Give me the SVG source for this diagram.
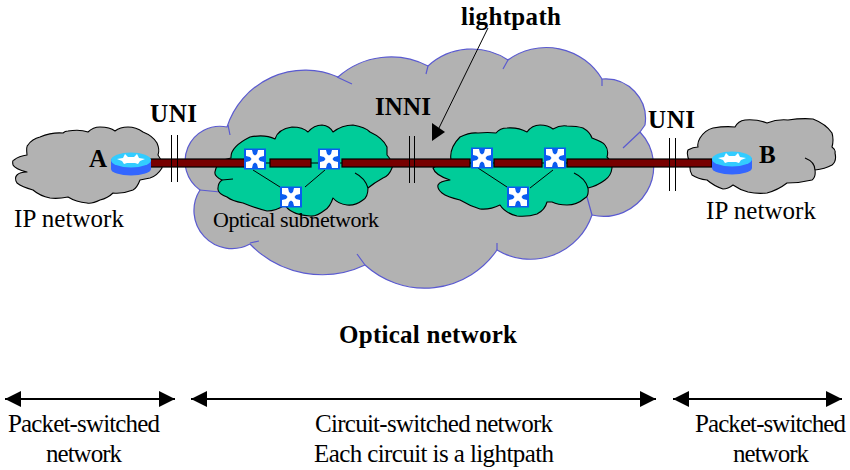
<svg xmlns="http://www.w3.org/2000/svg" width="850" height="470" viewBox="0 0 850 470">
<style>
.big{fill:#b2b2b2;stroke:#5a5ad0;stroke-width:1.2;stroke-linejoin:round}
.notchB{fill:none;stroke:#5a5ad0;stroke-width:1.2}
.green{fill:#00cc99;stroke:#000;stroke-width:1.1;stroke-linejoin:round}
.small{fill:#b2b2b2;stroke:#000;stroke-width:1.1;stroke-linejoin:round}
.notchK{fill:none;stroke:#000;stroke-width:1.1}
.bar{fill:#770000;stroke:#000;stroke-width:1.2}
.thin{fill:none;stroke:#000;stroke-width:1}
.span{stroke:#000;stroke-width:2;fill:none;marker-start:url(#hl);marker-end:url(#hr)}
text{font-family:"Liberation Serif","Times New Roman",serif;fill:#000}
.b{font-weight:bold;font-size:25px}
.r{font-size:25px}
.s{font-size:22px}
</style>
<defs>
<marker id="hr" markerUnits="userSpaceOnUse" markerWidth="17" markerHeight="18" refX="16" refY="9" orient="auto"><path d="M0,1 L16,9 L0,17 Z" fill="#000"/></marker>
<marker id="hl" markerUnits="userSpaceOnUse" markerWidth="17" markerHeight="18" refX="1" refY="9" orient="auto"><path d="M17,1 L1,9 L17,17 Z" fill="#000"/></marker>
<g id="sw">
<rect x="-11" y="-10.500" width="22" height="21" fill="#0a5cf0"/>
<path d="M-9,-9 L-3,-9 L-2,-5 L0,-3.500 L2,-5 L3,-9 L9,-9 L9,-3 L5,-2 L3.500,0 L5,2 L9,3 L9,9 L3,9 L2,5 L0,3.500 L-2,5 L-3,9 L-9,9 L-9,3 L-5,2 L-3.500,0 L-5,-2 L-9,-3 Z" fill="#fff"/>
</g>
<g id="router">
<path d="M-20,-5 L-20,5 A20,6.500 0 0 0 20,5 L20,-5 Z" fill="#3366ff"/>
<ellipse cx="0" cy="-4" rx="20" ry="7.500" fill="#33ccff"/>
<path d="M-14,-5 L-8,-6 L-6,-10 L-3,-7 L3,-7 L6,-10 L8,-6 L14,-5 L9,-3 L7,0 L4,-1 L-4,-1 L-7,0 L-9,-3 Z" fill="#fff"/>
</g>
</defs>
<g id="optical-network">
<path class="big" d="M227,127 A82,82 0 0 1 338,77 A80,80 0 0 1 428,66 A65,65 0 0 1 508,60 A65,65 0 0 1 602,79 A40,40 0 0 1 645,125 L640,132 A50,50 0 0 1 592,215 A65,65 0 0 1 497,250 A88,88 0 0 1 365,265 A100,100 0 0 1 250,244 A38,38 0 0 1 200,190 A35,35 0 0 1 227,127 Z"/>
<path class="notchB" d="M337,77 L352,84 M428,66 L426,74 M508,60 L503,69 M602,79 L602,86 M640,132 L623,148 M228,125 L230,135 M259,241 L250,243 M357,254 L365,265 M497,243 L497,250 M587,197 L592,215 M200,190 L220,192"/>
</g>
<g id="subnetwork-left">
<path class="green" d="M231,158 Q230,147 250,137 Q265,134 275,139 Q278,129 292,127 Q303,127 308,132 Q314,125 322,125 Q330,126 333,132 Q342,125 353,125 Q365,127 370,132 Q383,138 387,147 L387,155 Q394,163 392,168 Q389,176 383,178 Q374,183 368,188 Q368,197 363,200 Q355,206 347,205 Q338,204 333,198 Q330,207 325,210 Q316,217 310,216 Q298,215 293,212 Q287,209 285,205 Q276,211 267,211 Q255,208 243,203 Q232,201 227,197 Q217,193 218,188 Q218,183 222,180 Q214,176 215,172 Q216,166 220,162 Q225,159 231,158 Z"/>
<path class="notchK" d="M222,180 L233,179 M355,173 Q365,178 368,188"/>
</g>
<g id="subnetwork-right">
<path class="green" d="M451,160 Q449,148 460,137 Q470,132 478,133 Q488,132 496,133 Q500,128 507,128 Q518,127 527,132 Q532,125 540,125 Q548,125 553,129 Q560,125 567,126 Q577,126 583,128 Q590,132 592,138 Q603,142 605,145 Q609,150 607,157 Q612,162 612,168 Q611,176 605,180 Q597,186 588,188 Q589,196 585,198 Q577,205 567,205 Q558,205 552,202 L547,202 Q545,210 537,214 Q528,217 517,216 Q505,213 500,205 Q490,210 480,209 Q470,206 460,200 Q447,197 442,193 Q437,189 438,185 Q440,181 450,180 Q435,175 433,168 Q440,163 451,160 Z"/>
<path class="notchK" d="M574,173 Q585,178 588,188"/>
</g>
<g id="ip-network-left">
<path class="small" d="M27,155 Q26,146 28,145 Q32,139 40,137 Q52,132 63,133 Q65,131 68,131 Q80,129 88,132 Q93,127 100,127 Q110,127 115,131 Q120,127 128,127 Q136,127 143,132 Q153,136 157,143 Q160,150 158,155 Q163,162 162,168 Q157,176 150,178 L140,180 Q137,188 133,190 Q123,194 113,193 Q108,198 100,200 Q92,204 87,203 Q76,202 68,197 Q58,199 50,198 Q40,196 33,190 Q22,187 17,183 Q14,178 17,175 Q20,172 27,172 Q15,169 13,165 Q12,160 14,160 Q19,156 27,155 Z"/>
</g>
<g id="ip-network-right">
<path class="small" d="M688,150 Q693,147 698,147 Q697,143 700,138 Q705,130 713,128 Q725,126 735,127 Q738,121 745,120 Q757,119 767,123 Q777,119 788,120 Q802,118 813,119 Q826,124 832,133 Q834,140 832,147 Q836,150 835,153 Q837,161 832,165 Q825,169 815,170 Q816,177 812,180 Q800,183 787,183 Q778,190 767,193 Q757,194 748,192 Q740,190 733,185 Q728,189 723,189 Q714,186 707,180 Q698,179 692,175 Q689,170 690,162 Q686,155 688,150 Z"/>
<path class="notchK" d="M805,158 Q815,162 815,170"/>
</g>
<g id="connectors">
<path class="thin" d="M253,170 L280,187 M325,170 L305,187 M478,168 L507,187 M553,170 L530,188 M247,163 L342,163 M470,163 L567,163"/>
<rect class="bar" x="150" y="159" width="97" height="8"/>
<rect class="bar" x="270" y="159" width="41" height="8"/>
<rect class="bar" x="342" y="159" width="128" height="8"/>
<rect class="bar" x="494" y="159" width="48" height="8"/>
<rect class="bar" x="567" y="159" width="145" height="8"/>
<path class="thin" d="M171.500,135 V182 M177.500,135 V182 M409.500,136 V183 M414.500,136 V183 M669.500,138 V191 M675.500,138 V191"/>
<path class="thin" d="M488,28 L438,130"/>
<path d="M432,141 L432,123 L445,132 Z" fill="#000"/>
<path class="span" d="M5,399 H175"/>
<path class="span" d="M191,399 H656"/>
<path class="span" d="M673,399 H842"/>
</g>
<g id="router-a"><use href="#router" x="131" y="164"/></g>
<g id="router-b"><use href="#router" x="732" y="163"/></g>
<g id="switch-1"><use href="#sw" x="255" y="159"/></g>
<g id="switch-2"><use href="#sw" x="329" y="159"/></g>
<g id="switch-3"><use href="#sw" x="291" y="197"/></g>
<g id="switch-4"><use href="#sw" x="482" y="158"/></g>
<g id="switch-5"><use href="#sw" x="555" y="158"/></g>
<g id="switch-6"><use href="#sw" x="518" y="197"/></g>
<g id="labels">
<text class="b" x="150" y="122" textLength="47">UNI</text>
<text class="b" x="375" y="115" textLength="56">INNI</text>
<text class="b" x="648" y="128" textLength="47">UNI</text>
<text class="b" x="461" y="25" textLength="100">lightpath</text>
<text class="b" x="89" y="167" textLength="18">A</text>
<text class="b" x="759" y="163" textLength="17">B</text>
<text class="r" x="14" y="227" textLength="110">IP network</text>
<text class="r" x="706" y="219" textLength="110">IP network</text>
<text class="s" x="213" y="227" textLength="166">Optical subnetwork</text>
<text class="b" x="339" y="343" textLength="178">Optical network</text>
<text class="r" x="8" y="432" textLength="152">Packet-switched</text>
<text class="r" x="46" y="462" textLength="76">network</text>
<text class="r" x="315" y="432" textLength="238">Circuit-switched network</text>
<text class="r" x="314" y="462" textLength="240">Each circuit is a lightpath</text>
<text class="r" x="695" y="432" textLength="151">Packet-switched</text>
<text class="r" x="733" y="462" textLength="76">network</text>
</g>
</svg>
